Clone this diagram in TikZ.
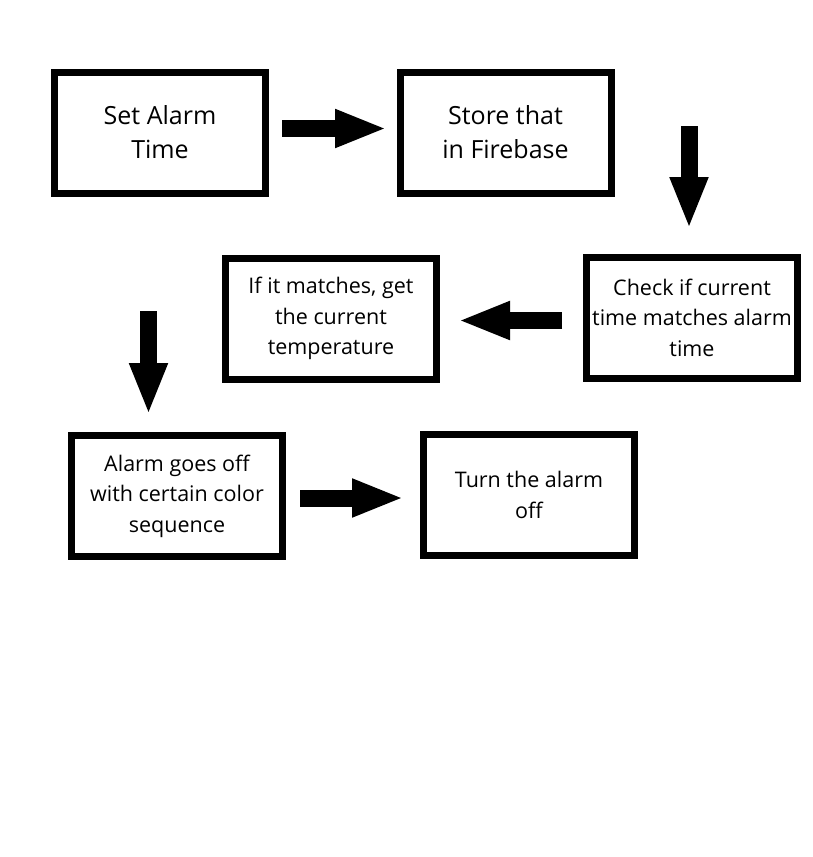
\documentclass[tikz,border=0pt]{standalone}
\usepackage{fontspec}
\setmainfont{Open Sans}
\usetikzlibrary{arrows.meta}
\tikzset{
  box/.style={draw=black, line width=7pt, fill=white, minimum width=211pt, minimum height=121pt, inner sep=0pt, align=center},
  bigtext/.style={font=\fontsize{25pt}{34pt}\selectfont},
  smalltext/.style={font=\fontsize{21.5pt}{30.5pt}\selectfont},
  blockarrow/.style={line width=17pt, -{Triangle[length=52pt,width=35pt]}}
}
\begin{document}
\begin{tikzpicture}[x=1pt,y=-1pt]
\useasboundingbox (0,0) rectangle (812,857);
\node[box,bigtext] (b1) at (160,132.5) {Set Alarm\\Time};
\node[box,bigtext] (b2) at (505.5,132.5) {Store that\\in Firebase};
\node[box,smalltext] (b3) at (692,317.5) {Check if current\\time matches alarm\\time};
\node[box,smalltext] (b4) at (331,318.5) {If it matches, get\\the current\\temperature};
\node[box,smalltext] (b5) at (177,496) {Alarm goes off\\with certain color\\sequence};
\node[box,smalltext] (b6) at (529,495) {Turn the alarm\\off};
\coordinate (a1s) at (282,128.5);
\coordinate (a1e) at (387,128.5);
\coordinate (a2s) at (689,126);
\coordinate (a2e) at (689,229);
\coordinate (a3s) at (562,320.5);
\coordinate (a3e) at (458,320.5);
\coordinate (a4s) at (148.5,311);
\coordinate (a4e) at (148.5,415);
\coordinate (a5s) at (300,498);
\coordinate (a5e) at (404,498);
\draw[blockarrow] (a1s) -- (a1e);
\draw[blockarrow] (a2s) -- (a2e);
\draw[blockarrow] (a3s) -- (a3e);
\draw[blockarrow] (a4s) -- (a4e);
\draw[blockarrow] (a5s) -- (a5e);
\end{tikzpicture}
\end{document}
